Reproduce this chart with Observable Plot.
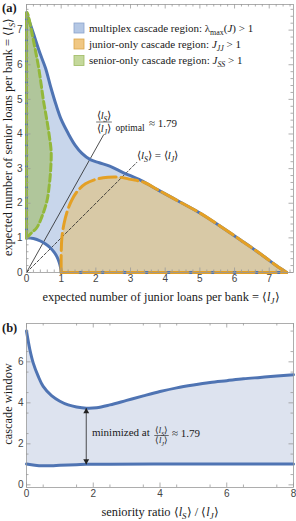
<!DOCTYPE html>
<html><head><meta charset="utf-8">
<script src="https://cdn.jsdelivr.net/npm/d3@7"></script>
<script src="https://cdn.jsdelivr.net/npm/@observablehq/plot@0.6"></script>
<style>
body{margin:0;background:#fff;}
#wrap{position:relative;width:296px;height:521px;overflow:hidden;}
#wrap svg{position:absolute;left:0;display:block;overflow:visible;}
</style></head><body><div id="wrap"></div>
<script>
// ---------- Panel (a): region boundaries, points as [⟨lJ⟩, ⟨lS⟩] ----------
const outerBoundary = [[0,7.5],[0.1,7.2],[0.2,6.9],[0.4,6.3],[0.55,5.9],[0.7,5.35],[0.85,4.85],[1.0,4.42],[1.2,4.02],[1.4,3.68],[1.6,3.44],[1.84,3.26],[2.1,3.17],[2.4,3.07],[2.8,2.88],[3.3,2.66],[3.8,2.38],[4.4,2.05],[5.0,1.72],[5.6,1.33],[6.2,0.92],[6.8,0.5],[7.2,0.2],[7.5,0]];
const innerBoundary = [[0,1],[0.2,0.98],[0.4,0.91],[0.55,0.82],[0.7,0.7],[0.8,0.58],[0.88,0.45],[0.94,0.3],[0.98,0.15],[1,0]];
const juniorBoundary = [[1,0],[1.0,0.5],[1.02,1.0],[1.08,1.4],[1.17,1.75],[1.3,2.08],[1.47,2.35],[1.7,2.56],[2.0,2.69],[2.35,2.75],[2.7,2.75],[3.0,2.69],[3.4,2.6]];
const juniorMerge = 3.4; // where junior boundary joins the outer boundary
const seniorBoundary = [[0,1],[0.12,1.12],[0.3,1.3],[0.44,1.6],[0.59,2.07],[0.66,2.55],[0.7,3.03],[0.71,3.5],[0.65,4.0],[0.57,4.5],[0.49,4.96],[0.42,5.45],[0.35,5.92],[0.27,6.35],[0.2,6.7],[0.12,7.1],[0.05,7.42],[0.02,7.5]];
const axisEdgeJ = [[1,0],[7.5,0]];
const axisEdgeS = [[0,1],[0,7.5]];
const optimalLine = [[0,0],[2.22,3.97]];
const equalLine = [[0,0],[3.18,3.18]];
const aTicks = [0,1,2,3,4,5,6,7];

// ---------- Panel (b): cascade window vs seniority ratio ----------
const windowUpper = [[0,7.5],[0.1,6.6],[0.2,5.95],[0.35,5.3],[0.5,4.8],[0.75,4.35],[1.0,4.08],[1.25,3.9],[1.5,3.8],[1.79,3.74],[2.1,3.76],[2.5,3.9],[3,4.12],[3.5,4.34],[4,4.55],[4.5,4.73],[5,4.87],[5.5,4.99],[6,5.08],[6.5,5.17],[7,5.24],[7.5,5.31],[8,5.37]];
const windowLower = [[0,1.02],[0.25,0.96],[0.5,0.93],[0.75,0.93],[1,0.95],[1.5,0.98],[1.79,1.0],[2.5,1.01],[4,1.02],[6,1.02],[8,1.02]];
const minimum = [{ratio:1.79, lo:1.0, hi:3.74}];
const bTicksX = [0,2,4,6,8];
const bTicksY = [0,2,4,6];

// ---------- styles ----------
const BLUE = "#4f74b3", ORANGE = "#e4a025", GREEN = "#93b83a";
const BLUE_FILL = "#c8d6eb", ORANGE_FILL = "#d8c9a6", GREEN_FILL = "#b0c69b", WIN_FILL = "#dde3ef";
const FRAME = "#9a9a9a";
const SERIF = "'Liberation Serif','Times New Roman',serif";
const W = 296;
const X = d => d[0], Y = d => d[1];

function frameTicks(xMajor, xMinor, yMajor, yMinor, iw, ih) {
  const L = 4.5, l = 2.5, o = {stroke: FRAME, strokeWidth: 0.8};
  const f = d => d;
  return [
    Plot.tickX(xMajor, {x: f, insetTop: ih - L, ...o}),
    Plot.tickX(xMajor, {x: f, insetBottom: ih - L, ...o}),
    Plot.tickX(xMinor, {x: f, insetTop: ih - l, ...o}),
    Plot.tickX(xMinor, {x: f, insetBottom: ih - l, ...o}),
    Plot.tickY(yMajor, {y: f, insetRight: iw - L, ...o}),
    Plot.tickY(yMajor, {y: f, insetLeft: iw - L, ...o}),
    Plot.tickY(yMinor, {y: f, insetRight: iw - l, ...o}),
    Plot.tickY(yMinor, {y: f, insetLeft: iw - l, ...o})
  ];
}
const minorOf = (max, step) => d3.range(0, max + 1e-9, step).filter(v => Math.abs(v - Math.round(v)) > 1e-6);

function rich(svg, x, y, parts, o = {}) {
  const size = o.size || 11;
  const t = svg.append("text").attr("x", x).attr("y", y)
    .attr("font-family", SERIF).attr("font-size", size)
    .attr("text-anchor", o.anchor || "start").attr("fill", o.fill || "#1a1a1a");
  if (o.weight) t.attr("font-weight", o.weight);
  if (o.rotate) t.attr("transform", `rotate(${o.rotate} ${x} ${y})`);
  let cur = 0;
  for (const p of parts) {
    const q = typeof p === "string" ? {t: p} : p;
    const off = q.sub ? size * 0.28 : 0;
    const s = t.append("tspan").text(q.t).attr("dy", off - cur);
    cur = off;
    if (q.i) s.attr("font-style", "italic");
    if (q.sub) s.attr("font-size", size * 0.72);
  }
  return t;
}
const bra = s => ["⟨", {t: "l", i: 1}, {t: s, i: 1, sub: 1}, "⟩"];
function frac(svg, cx, barY, num, den, size) {
  const a = rich(svg, cx, barY - size * 0.28, num, {size, anchor: "middle"});
  const b = rich(svg, cx, barY + size * 0.92, den, {size, anchor: "middle"});
  const w = Math.max(a.node().getBBox().width, b.node().getBBox().width) + 1;
  svg.append("line").attr("x1", cx - w / 2).attr("x2", cx + w / 2).attr("y1", barY).attr("y2", barY)
    .attr("stroke", "#1a1a1a").attr("stroke-width", 0.6);
}

const wrap = document.getElementById("wrap");

// ---------- Panel (a) ----------
const HA = 305, mA = {top: 4, right: 3, bottom: 33, left: 26};
const iwA = W - mA.left - mA.right, ihA = HA - mA.top - mA.bottom;
const bluePoly = [...outerBoundary, ...innerBoundary.slice().reverse()];
const orangePoly = [...juniorBoundary, ...outerBoundary.filter(p => p[0] > juniorMerge)];
const greenPoly = seniorBoundary;
const aMinor = minorOf(7.7, 0.2);

const plotA = Plot.plot({
  width: W, height: HA,
  marginTop: mA.top, marginRight: mA.right, marginBottom: mA.bottom, marginLeft: mA.left,
  x: {domain: [0, 7.7]}, y: {domain: [0, 7.74]},
  style: {fontFamily: "'Liberation Sans',Arial,sans-serif", fontSize: "10px", color: "#444", background: "transparent", overflow: "visible"},
  marks: [
    Plot.line(bluePoly, {x: X, y: Y, fill: BLUE_FILL, stroke: "none"}),
    Plot.line(orangePoly, {x: X, y: Y, fill: ORANGE_FILL, stroke: "none"}),
    Plot.line(greenPoly, {x: X, y: Y, fill: GREEN_FILL, stroke: "none"}),
    Plot.line(optimalLine, {x: X, y: Y, stroke: "#222", strokeWidth: 0.8}),
    Plot.line(equalLine, {x: X, y: Y, stroke: "#222", strokeWidth: 0.8, strokeDasharray: "3,2"}),
    Plot.line(outerBoundary, {x: X, y: Y, stroke: BLUE, strokeWidth: 3, curve: "catmull-rom"}),
    Plot.line(innerBoundary, {x: X, y: Y, stroke: BLUE, strokeWidth: 3, curve: "catmull-rom"}),
    Plot.line(axisEdgeJ, {x: X, y: Y, stroke: BLUE, strokeWidth: 3}),
    Plot.line(axisEdgeS, {x: X, y: Y, stroke: BLUE, strokeWidth: 3}),
    Plot.line(orangePoly, {x: X, y: Y, stroke: ORANGE, strokeWidth: 3, strokeDasharray: "17,5", curve: "catmull-rom"}),
    Plot.line(axisEdgeJ, {x: X, y: Y, stroke: ORANGE, strokeWidth: 3, strokeDasharray: "17,5"}),
    Plot.line(seniorBoundary, {x: X, y: Y, stroke: GREEN, strokeWidth: 3, strokeDasharray: "7,3.5", curve: "catmull-rom"}),
    Plot.line(axisEdgeS, {x: X, y: Y, stroke: GREEN, strokeWidth: 3, strokeDasharray: "7,3.5"}),
    Plot.frame({stroke: FRAME, strokeWidth: 0.8}),
    ...frameTicks(aTicks, aMinor, aTicks, aMinor, iwA, ihA),
    Plot.axisX({ticks: aTicks, tickSize: 0, tickPadding: 2.5, label: null, tickFormat: d3.format("d")}),
    Plot.axisY({ticks: aTicks, tickSize: 0, tickPadding: 4, label: null, tickFormat: d3.format("d")})
  ]
});
plotA.style.top = "0px";
wrap.appendChild(plotA);
const sa = d3.select(plotA);
rich(sa, 2, 12, ["(a)"], {size: 12.5, weight: "bold"});
// legend
const legendRows = [
  {fill: "#b4c7e4", stroke: "#8aa3cc", y: 31.5, parts: ["multiplex cascade region: λ", {t: "max", sub: 1}, "(", {t: "J", i: 1}, ") > 1"]},
  {fill: "#f0c783", stroke: "#d9a54a", y: 47.5, parts: ["junior-only cascade region: ", {t: "J", i: 1}, {t: "JJ", i: 1, sub: 1}, " > 1"]},
  {fill: "#c4d89b", stroke: "#9fbb63", y: 64, parts: ["senior-only cascade region: ", {t: "J", i: 1}, {t: "SS", i: 1, sub: 1}, " > 1"]}
];
for (const r of legendRows) {
  sa.append("rect").attr("x", 74).attr("y", r.y - 8.5).attr("width", 10).attr("height", 10)
    .attr("fill", r.fill).attr("stroke", r.stroke).attr("stroke-width", 0.8);
  rich(sa, 89, r.y, r.parts, {size: 11});
}
// annotations
frac(sa, 104, 122, bra("S"), bra("J"), 10.5);
rich(sa, 115.5, 131, ["optimal"], {size: 9.5});
rich(sa, 149, 126.5, ["≈ 1.79"], {size: 11});
rich(sa, 137, 159, [...bra("S"), " = ", ...bra("J")], {size: 11});
// axis labels
rich(sa, 161, 300.5, ["expected number of junior loans per bank = ", ...bra("J")], {size: 12.4, anchor: "middle"});
rich(sa, 12, 137, ["expected number of senior loans per bank = ", ...bra("S")], {size: 12.4, anchor: "middle", rotate: -90});

// ---------- Panel (b) ----------
const HB = 216, mB = {top: 18, right: 3, bottom: 34, left: 26};
const iwB = W - mB.left - mB.right, ihB = HB - mB.top - mB.bottom;
const windowPoly = [...windowUpper, ...windowLower.slice().reverse()];
const bMinorX = minorOf(8, 0.5), bMinorY = minorOf(7.87, 0.5);

const plotB = Plot.plot({
  width: W, height: HB,
  marginTop: mB.top, marginRight: mB.right, marginBottom: mB.bottom, marginLeft: mB.left,
  x: {domain: [0, 8]}, y: {domain: [-0.13, 7.87]},
  style: {fontFamily: "'Liberation Sans',Arial,sans-serif", fontSize: "10px", color: "#444", background: "transparent", overflow: "visible"},
  marks: [
    Plot.line(windowPoly, {x: X, y: Y, fill: WIN_FILL, stroke: "none"}),
    Plot.line(windowUpper, {x: X, y: Y, stroke: BLUE, strokeWidth: 3, curve: "catmull-rom"}),
    Plot.line(windowLower, {x: X, y: Y, stroke: BLUE, strokeWidth: 3, curve: "catmull-rom"}),
    Plot.link(minimum, {x1: "ratio", x2: "ratio", y1: "lo", y2: "hi", stroke: "#222", strokeWidth: 0.8}),
    Plot.dot(minimum, {x: "ratio", y: "hi", symbol: "triangle", r: 2.2, fill: "#222", stroke: "none", dy: 3.3}),
    Plot.dot(minimum, {x: "ratio", y: "lo", symbol: "triangle", r: 2.2, fill: "#222", stroke: "none", rotate: 180, dy: -3.3}),
    Plot.frame({stroke: FRAME, strokeWidth: 0.8}),
    ...frameTicks(bTicksX, bMinorX, bTicksY, bMinorY, iwB, ihB),
    Plot.axisX({ticks: bTicksX, tickSize: 0, tickPadding: 2.5, label: null, tickFormat: d3.format("d")}),
    Plot.axisY({ticks: bTicksY, tickSize: 0, tickPadding: 3, label: null, tickFormat: d3.format("d")})
  ]
});
plotB.style.top = HA + "px";
wrap.appendChild(plotB);
const sb = d3.select(plotB);
rich(sb, 2, 27, ["(b)"], {size: 12.5, weight: "bold"});
rich(sb, 92, 131, ["minimized at"], {size: 11});
frac(sb, 161.5, 130.5, bra("S"), bra("J"), 8.5);
rich(sb, 172, 132, ["≈ 1.79"], {size: 11});
rich(sb, 160, 210.5, ["seniority ratio ", ...bra("S"), " / ", ...bra("J")], {size: 12.4, anchor: "middle"});
rich(sb, 12, 99, ["cascade window"], {size: 12.4, anchor: "middle", rotate: -90});
</script></body></html>
